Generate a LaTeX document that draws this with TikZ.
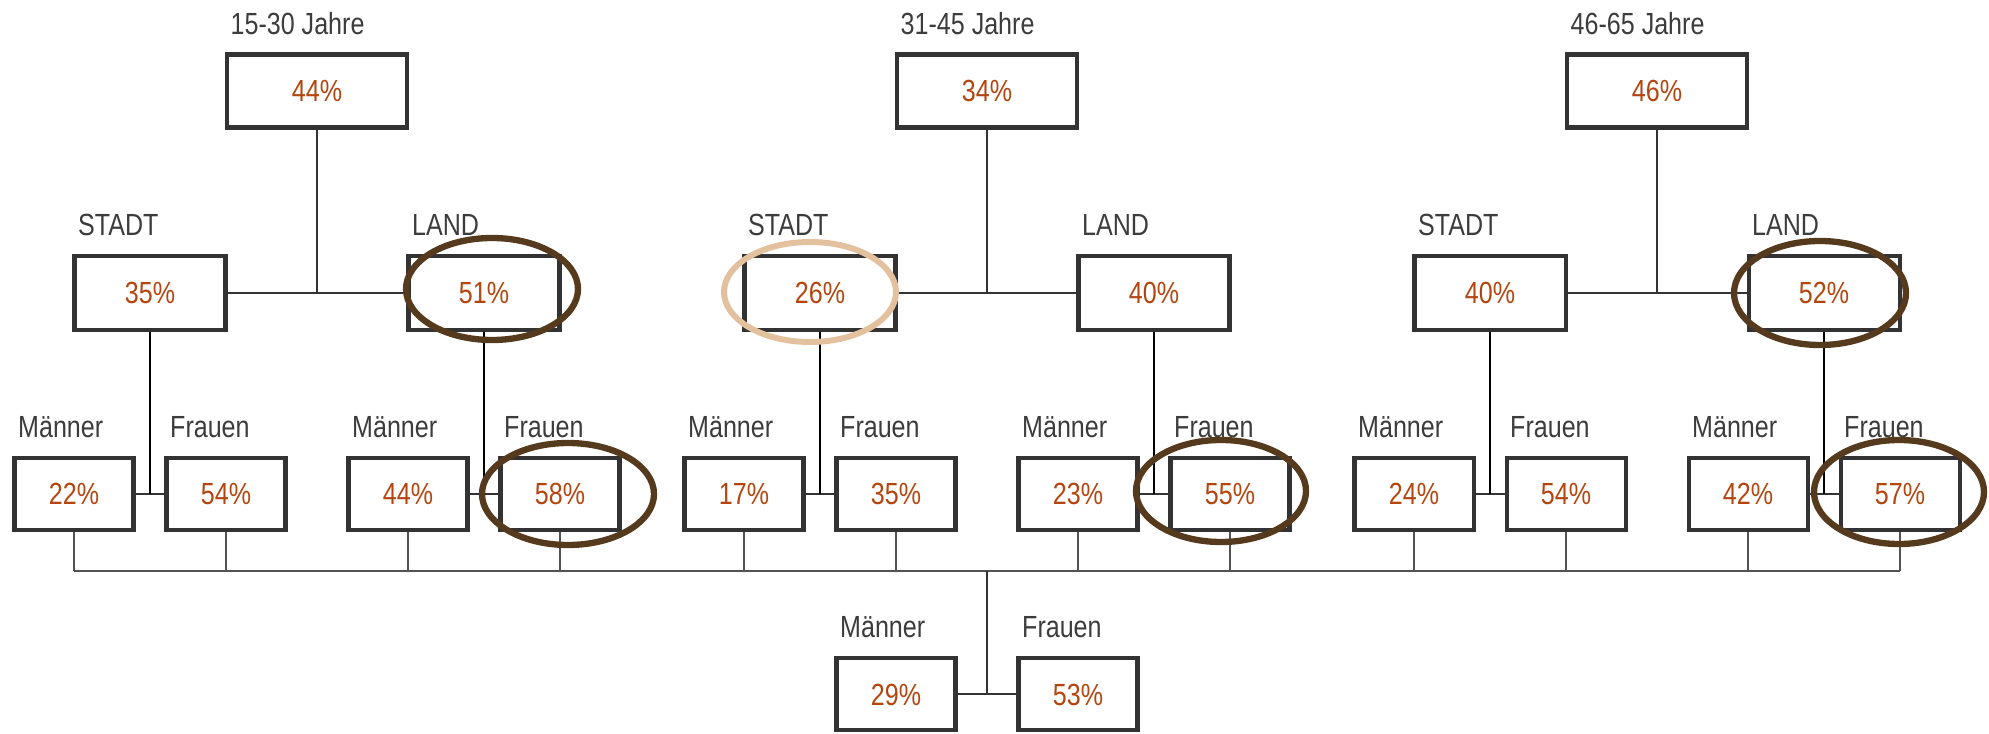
\documentclass[tikz,border=0pt]{standalone}
\usepackage{fontspec}
\setmainfont{Liberation Sans}[FakeStretch=0.82]
\definecolor{pct}{HTML}{B4450F}
\definecolor{txt}{HTML}{3C3C3C}
\definecolor{frame}{HTML}{333333}
\definecolor{ringdark}{HTML}{563A1D}
\definecolor{ringlight}{HTML}{E3C19F}
\begin{document}
\begin{tikzpicture}[
   box/.style={draw=frame, line width=1.15pt, inner sep=0pt, text=pct,
      font=\fontsize{8.7}{10}\selectfont, text height=0.22cm, text depth=0cm},
   agebox/.style={box, minimum width=1.80cm, minimum height=0.73cm},
   areabox/.style={box, minimum width=1.51cm, minimum height=0.74cm},
   sexbox/.style={box, minimum width=1.19cm, minimum height=0.72cm},
   lbl/.style={text=txt, inner sep=0pt, anchor=base west, font=\fontsize{8.7}{10}\selectfont},
   conn/.style={draw=frame, line width=0.8pt},
   drop/.style={draw=black, line width=0.6pt},
   bus/.style={draw=frame!85, line width=0.55pt},
   ring/.style={draw=ringdark, line width=1.8pt},
   ringpale/.style={draw=ringlight, line width=1.7pt}]
   \useasboundingbox (0,0) rectangle (19.89,7.33);
   % age groups
   \node[agebox] (t1) at ( 3.17,6.42) {44\%};
   \node[agebox] (t2) at ( 9.87,6.42) {34\%};
   \node[agebox] (t3) at (16.57,6.42) {46\%};
   % stadt / land
   \node[areabox] (st1) at ( 1.50,4.40) {35\%};
   \node[areabox] (la1) at ( 4.84,4.40) {51\%};
   \node[areabox] (st2) at ( 8.20,4.40) {26\%};
   \node[areabox] (la2) at (11.54,4.40) {40\%};
   \node[areabox] (st3) at (14.90,4.40) {40\%};
   \node[areabox] (la3) at (18.24,4.40) {52\%};
   % maenner / frauen
   \node[sexbox] (st1m) at ( 0.74,2.39) {22\%};
   \node[sexbox] (st1f) at ( 2.26,2.39) {54\%};
   \node[sexbox] (la1m) at ( 4.08,2.39) {44\%};
   \node[sexbox] (la1f) at ( 5.60,2.39) {58\%};
   \node[sexbox] (st2m) at ( 7.44,2.39) {17\%};
   \node[sexbox] (st2f) at ( 8.96,2.39) {35\%};
   \node[sexbox] (la2m) at (10.78,2.39) {23\%};
   \node[sexbox] (la2f) at (12.30,2.39) {55\%};
   \node[sexbox] (st3m) at (14.14,2.39) {24\%};
   \node[sexbox] (st3f) at (15.66,2.39) {54\%};
   \node[sexbox] (la3m) at (17.48,2.39) {42\%};
   \node[sexbox] (la3f) at (19.00,2.39) {57\%};
   % total
   \node[sexbox] (allm) at ( 8.96,0.39) {29\%};
   \node[sexbox] (allf) at (10.78,0.39) {53\%};
   % labels
   \node[lbl] (lt1) at ([xshift=0.05cm,yshift=0.18cm]t1.north west) {15-30 Jahre};
   \node[lbl] (lt2) at ([xshift=0.05cm,yshift=0.18cm]t2.north west) {31-45 Jahre};
   \node[lbl] (lt3) at ([xshift=0.05cm,yshift=0.18cm]t3.north west) {46-65 Jahre};
   \node[lbl] (lst1) at ([xshift=0.05cm,yshift=0.18cm]st1.north west) {STADT};
   \node[lbl] (lla1) at ([xshift=0.05cm,yshift=0.18cm]la1.north west) {LAND};
   \node[lbl] (lst2) at ([xshift=0.05cm,yshift=0.18cm]st2.north west) {STADT};
   \node[lbl] (lla2) at ([xshift=0.05cm,yshift=0.18cm]la2.north west) {LAND};
   \node[lbl] (lst3) at ([xshift=0.05cm,yshift=0.18cm]st3.north west) {STADT};
   \node[lbl] (lla3) at ([xshift=0.05cm,yshift=0.18cm]la3.north west) {LAND};
   \node[lbl] (lst1m) at ([xshift=0.05cm,yshift=0.18cm]st1m.north west) {Männer};
   \node[lbl] (lst1f) at ([xshift=0.05cm,yshift=0.18cm]st1f.north west) {Frauen};
   \node[lbl] (lla1m) at ([xshift=0.05cm,yshift=0.18cm]la1m.north west) {Männer};
   \node[lbl] (lla1f) at ([xshift=0.05cm,yshift=0.18cm]la1f.north west) {Frauen};
   \node[lbl] (lst2m) at ([xshift=0.05cm,yshift=0.18cm]st2m.north west) {Männer};
   \node[lbl] (lst2f) at ([xshift=0.05cm,yshift=0.18cm]st2f.north west) {Frauen};
   \node[lbl] (lla2m) at ([xshift=0.05cm,yshift=0.18cm]la2m.north west) {Männer};
   \node[lbl] (lla2f) at ([xshift=0.05cm,yshift=0.18cm]la2f.north west) {Frauen};
   \node[lbl] (lst3m) at ([xshift=0.05cm,yshift=0.18cm]st3m.north west) {Männer};
   \node[lbl] (lst3f) at ([xshift=0.05cm,yshift=0.18cm]st3f.north west) {Frauen};
   \node[lbl] (lla3m) at ([xshift=0.05cm,yshift=0.18cm]la3m.north west) {Männer};
   \node[lbl] (lla3f) at ([xshift=0.05cm,yshift=0.18cm]la3f.north west) {Frauen};
   \node[lbl] (lallm) at ([xshift=0.05cm,yshift=0.18cm]allm.north west) {Männer};
   \node[lbl] (lallf) at ([xshift=0.05cm,yshift=0.18cm]allf.north west) {Frauen};
   % age -> stadt/land
   \draw[conn] (st1.east) -- (la1.west);
   \draw[conn] (st2.east) -- (la2.west);
   \draw[conn] (st3.east) -- (la3.west);
   \draw[conn] (t1.south) -- (t1.south |- st1.east);
   \draw[conn] (t2.south) -- (t2.south |- st2.east);
   \draw[conn] (t3.south) -- (t3.south |- st3.east);
   % stadt/land -> maenner/frauen
   \draw[conn] (st1m.east) -- (st1f.west);
   \draw[conn] (la1m.east) -- (la1f.west);
   \draw[conn] (st2m.east) -- (st2f.west);
   \draw[conn] (la2m.east) -- (la2f.west);
   \draw[conn] (st3m.east) -- (st3f.west);
   \draw[conn] (la3m.east) -- (la3f.west);
   \draw[drop] (st1.south) -- (st1.south |- st1m.east);
   \draw[drop] (la1.south) -- (la1.south |- la1m.east);
   \draw[drop] (st2.south) -- (st2.south |- st2m.east);
   \draw[drop] (la2.south) -- (la2.south |- la2m.east);
   \draw[drop] (st3.south) -- (st3.south |- st3m.east);
   \draw[drop] (la3.south) -- (la3.south |- la3m.east);
   % common line to the total
   \coordinate (bus) at (0,1.62);
   \draw[bus] (st1m.south) -- (st1m |- bus) (st1f.south) -- (st1f |- bus)
              (la1m.south) -- (la1m |- bus) (la1f.south) -- (la1f |- bus)
              (st2m.south) -- (st2m |- bus) (st2f.south) -- (st2f |- bus)
              (la2m.south) -- (la2m |- bus) (la2f.south) -- (la2f |- bus)
              (st3m.south) -- (st3m |- bus) (st3f.south) -- (st3f |- bus)
              (la3m.south) -- (la3m |- bus) (la3f.south) -- (la3f |- bus);
   \draw[bus] (st1m |- bus) -- (la3f |- bus);
   \draw[conn] (t2 |- bus) -- (t2 |- allm.east);
   \draw[conn] (allm.east) -- (allf.west);
   % hand drawn rings
   \draw[ring] ([xshift=0.08cm,yshift=0.04cm]la1) ellipse (0.86 and 0.51);
   \draw[ring] ([xshift=0.08cm]la1f) ellipse (0.86 and 0.51);
   \draw[ringpale] ([xshift=-0.10cm,yshift=0.01cm]st2) ellipse (0.86 and 0.50);
   \draw[ring] ([xshift=-0.09cm,yshift=0.03cm]la2f) ellipse (0.85 and 0.51);
   \draw[ring] ([xshift=-0.04cm]la3) ellipse (0.86 and 0.52);
   \draw[ring] ([xshift=-0.01cm,yshift=0.02cm]la3f) ellipse (0.85 and 0.52);
\end{tikzpicture}
\end{document}
